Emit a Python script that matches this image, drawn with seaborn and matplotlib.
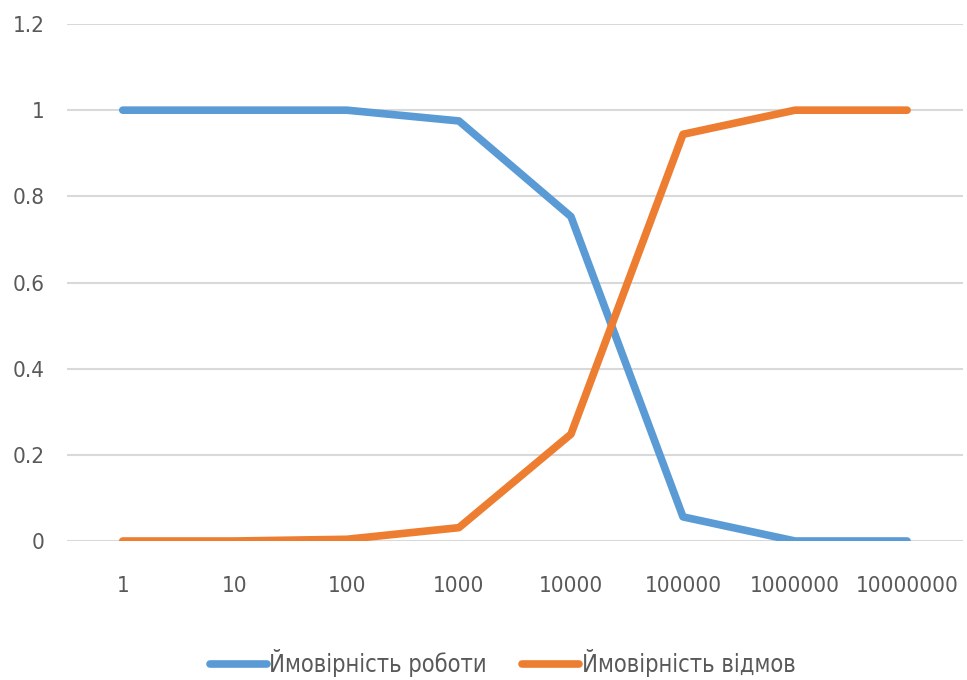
import pandas as pd
import matplotlib
matplotlib.use('Agg')
import matplotlib.pyplot as plt
import seaborn as sns

# Data
categories = ['1', '10', '100', '1000', '10000', '100000', '1000000', '10000000']
p_work = [1.0, 1.0, 1.0, 0.975, 0.753, 0.056, 0.0, 0.0]
p_fail = [0.0, 0.0, 0.004, 0.031, 0.248, 0.944, 1.0, 1.0]
series_names = ['Ймовірність роботи', 'Ймовірність відмов']
y_ticks = [0, 0.2, 0.4, 0.6, 0.8, 1, 1.2]
y_tick_labels = ['0', '0.2', '0.4', '0.6', '0.8', '1', '1.2']

colors = ['#5B9BD5', '#ED7D31']

df = pd.DataFrame({
    'x': categories * 2,
    'value': p_work + p_fail,
    'series': [series_names[0]] * len(categories) + [series_names[1]] * len(categories),
})

sns.set_style('white')
plt.rcParams['font.family'] = ['DejaVu Sans']
plt.rcParams['font.stretch'] = 'condensed'

fig = plt.figure(figsize=(9.67, 6.8), dpi=100)
ax = fig.add_axes([0.069, 0.2044, 0.927, 0.7603])

sns.lineplot(data=df, x='x', y='value', hue='series', palette=colors,
             linewidth=5.5, ax=ax, legend=False, sort=False)
for line in ax.get_lines():
    line.set_solid_capstyle('round')
    line.set_solid_joinstyle('round')

ax.set_xlim(-0.5, len(categories) - 0.5)
ax.set_ylim(0, 1.2)
ax.set_yticks(y_ticks)
ax.set_yticklabels(y_tick_labels)
ax.set_xlabel('')
ax.set_ylabel('')
ax.grid(axis='y', color='#D9D9D9', linewidth=1.5)
ax.set_axisbelow(True)
ax.tick_params(axis='both', length=0, labelsize=16, colors='#595959')
ax.tick_params(axis='x', pad=25)
ax.tick_params(axis='y', pad=16)
for s in ax.spines.values():
    s.set_visible(False)

handles = [plt.Line2D([], [], color=c, linewidth=5.5, solid_capstyle='round') for c in colors]
fig.legend(handles, series_names, loc='center', bbox_to_anchor=(0.52, 0.025), ncol=2,
           frameon=False, fontsize=17, handlelength=2.4, handletextpad=0.1,
           columnspacing=1.5, labelcolor='#595959')

fig.savefig('out.png', dpi=100)
